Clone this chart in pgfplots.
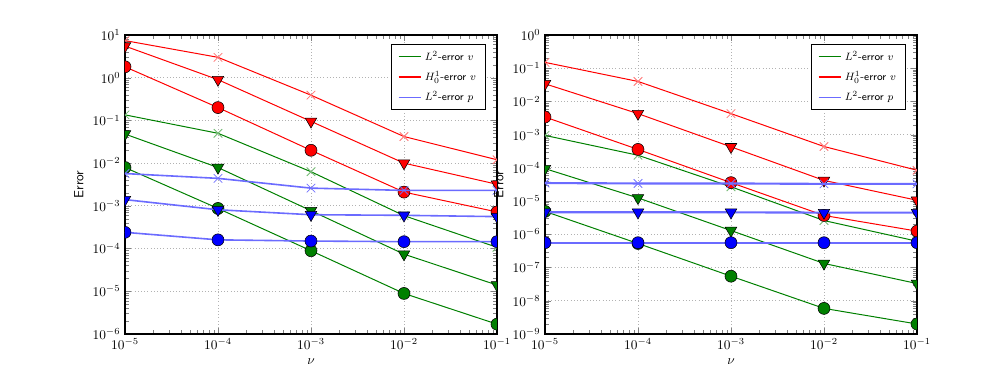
\documentclass[border=0pt]{standalone}
\usepackage{pgfplots}
\pgfplotsset{compat=1.18}
\definecolor{mplgreen}{rgb}{0,0.5,0}
\definecolor{mplred}{rgb}{1,0,0}
\definecolor{mplblue}{rgb}{0,0,1}
\colorlet{bluelight}{mplblue!58}

\pgfplotsset{
  serX/.style={#1, line width=0.75pt, mark=x, mark size=4.5pt,
    mark options={draw=#1!55, line width=0.6pt}},
  serT/.style={#1, line width=0.75pt, mark=triangle*, mark size=5pt,
    mark options={fill=#1, draw=black, line width=0.4pt, rotate=180}},
  serC/.style={#1, line width=0.75pt, mark=*, mark size=4.5pt,
    mark options={fill=#1, draw=black, line width=0.4pt}},
  blueln/.style={draw=bluelight, line width=1.2pt},
}

\begin{document}
\begin{tikzpicture}
\path (0,0) rectangle (747.75pt,280.5pt);

% left panel
\begin{axis}[
  xmode=log, ymode=log,
  scale only axis, width=279pt, height=224.25pt,
  at={(93.75pt,30pt)}, anchor=south west,
  xmin=1e-5, xmax=1e-1, ymin=1e-6, ymax=1e1,
  xtick={1e-5,1e-4,1e-3,1e-2,1e-1},
  grid=major, major grid style={gray!60, dotted, line width=0.6pt},
  axis line style={line width=1pt},
  tick label style={font=\normalsize},
  xlabel={$\nu$}, ylabel={\textsf{Error}},
  label style={font=\normalsize},
  clip marker paths=true,
  legend style={at={(0.97,0.97)}, anchor=north east, font=\footnotesize,
    line width=0.9pt, inner xsep=5pt, inner ysep=3pt, row sep=3pt},
  legend cell align=left,
]
\addlegendimage{draw=mplgreen, line width=1pt}
\addlegendentry{$L^2$\textsf{-error} $v$}
\addlegendimage{draw=mplred, line width=1pt}
\addlegendentry{$H^1_0$\textsf{-error} $v$}
\addlegendimage{draw=bluelight, line width=1pt}
\addlegendentry{$L^2$\textsf{-error} $p$}
% green
\addplot[serX=mplgreen, forget plot] coordinates {(1e-5,0.135) (1e-4,0.05) (1e-3,0.0063) (1e-2,5.9e-4) (1e-1,1.07e-4)};
\addplot[serT=mplgreen, forget plot] coordinates {(1e-5,0.048) (1e-4,0.0079) (1e-3,7.7e-4) (1e-2,7.4e-5) (1e-1,1.4e-5)};
\addplot[serC=mplgreen, forget plot] coordinates {(1e-5,0.0079) (1e-4,8.7e-4) (1e-3,8.9e-5) (1e-2,8.9e-6) (1e-1,1.7e-6)};
% red
\addplot[serX=mplred, forget plot] coordinates {(1e-5,7.4) (1e-4,3.0) (1e-3,0.39) (1e-2,0.042) (1e-1,0.012)};
\addplot[serT=mplred, forget plot] coordinates {(1e-5,5.5) (1e-4,0.9) (1e-3,0.095) (1e-2,0.01) (1e-1,0.0032)};
\addplot[serC=mplred, forget plot] coordinates {(1e-5,1.8) (1e-4,0.2) (1e-3,0.02) (1e-2,0.0021) (1e-1,7.2e-4)};
% blue
\addplot[serX=mplblue, blueln, forget plot] coordinates {(1e-5,0.0057) (1e-4,0.0044) (1e-3,0.0026) (1e-2,0.0023) (1e-1,0.0023)};
\addplot[serT=mplblue, blueln, forget plot] coordinates {(1e-5,0.0014) (1e-4,8.1e-4) (1e-3,6.2e-4) (1e-2,6.0e-4) (1e-1,5.6e-4)};
\addplot[serC=mplblue, blueln, forget plot] coordinates {(1e-5,2.4e-4) (1e-4,1.6e-4) (1e-3,1.5e-4) (1e-2,1.45e-4) (1e-1,1.45e-4)};
\end{axis}

% right panel
\begin{axis}[
  xmode=log, ymode=log,
  scale only axis, width=279pt, height=224.25pt,
  at={(408.75pt,30pt)}, anchor=south west,
  xmin=1e-5, xmax=1e-1, ymin=1e-9, ymax=1e0,
  xtick={1e-5,1e-4,1e-3,1e-2,1e-1},
  grid=major, major grid style={gray!60, dotted, line width=0.6pt},
  axis line style={line width=1pt},
  tick label style={font=\normalsize},
  xlabel={$\nu$}, ylabel={\textsf{Error}},
  label style={font=\normalsize},
  clip marker paths=true,
  legend style={at={(0.97,0.97)}, anchor=north east, font=\footnotesize,
    line width=0.9pt, inner xsep=5pt, inner ysep=3pt, row sep=3pt},
  legend cell align=left,
]
\addlegendimage{draw=mplgreen, line width=1pt}
\addlegendentry{$L^2$\textsf{-error} $v$}
\addlegendimage{draw=mplred, line width=1pt}
\addlegendentry{$H^1_0$\textsf{-error} $v$}
\addlegendimage{draw=bluelight, line width=1pt}
\addlegendentry{$L^2$\textsf{-error} $p$}
% green
\addplot[serX=mplgreen, forget plot] coordinates {(1e-5,9.5e-4) (1e-4,2.4e-4) (1e-3,2.7e-5) (1e-2,2.6e-6) (1e-1,6.2e-7)};
\addplot[serT=mplgreen, forget plot] coordinates {(1e-5,9.5e-5) (1e-4,1.25e-5) (1e-3,1.3e-6) (1e-2,1.33e-7) (1e-1,3.3e-8)};
\addplot[serC=mplgreen, forget plot] coordinates {(1e-5,4.9e-6) (1e-4,5.3e-7) (1e-3,5.5e-8) (1e-2,5.9e-9) (1e-1,2.0e-9)};
% red
\addplot[serX=mplred, forget plot] coordinates {(1e-5,0.15) (1e-4,0.04) (1e-3,0.0043) (1e-2,4.4e-4) (1e-1,8.5e-5)};
\addplot[serT=mplred, forget plot] coordinates {(1e-5,0.034) (1e-4,0.0043) (1e-3,4.3e-4) (1e-2,4.2e-5) (1e-1,1.06e-5)};
\addplot[serC=mplred, forget plot] coordinates {(1e-5,0.0034) (1e-4,3.6e-4) (1e-3,3.6e-5) (1e-2,3.7e-6) (1e-1,1.25e-6)};
% blue
\addplot[serX=mplblue, blueln, line width=1.6pt, forget plot] coordinates {(1e-5,3.5e-5) (1e-4,3.4e-5) (1e-3,3.4e-5) (1e-2,3.3e-5) (1e-1,3.3e-5)};
\addplot[serT=mplblue, blueln, line width=1.6pt, forget plot] coordinates {(1e-5,4.6e-6) (1e-4,4.6e-6) (1e-3,4.6e-6) (1e-2,4.5e-6) (1e-1,4.5e-6)};
\addplot[serC=mplblue, blueln, line width=1.6pt, forget plot] coordinates {(1e-5,5.6e-7) (1e-4,5.6e-7) (1e-3,5.6e-7) (1e-2,5.6e-7) (1e-1,5.6e-7)};
\end{axis}
\end{tikzpicture}
\end{document}
